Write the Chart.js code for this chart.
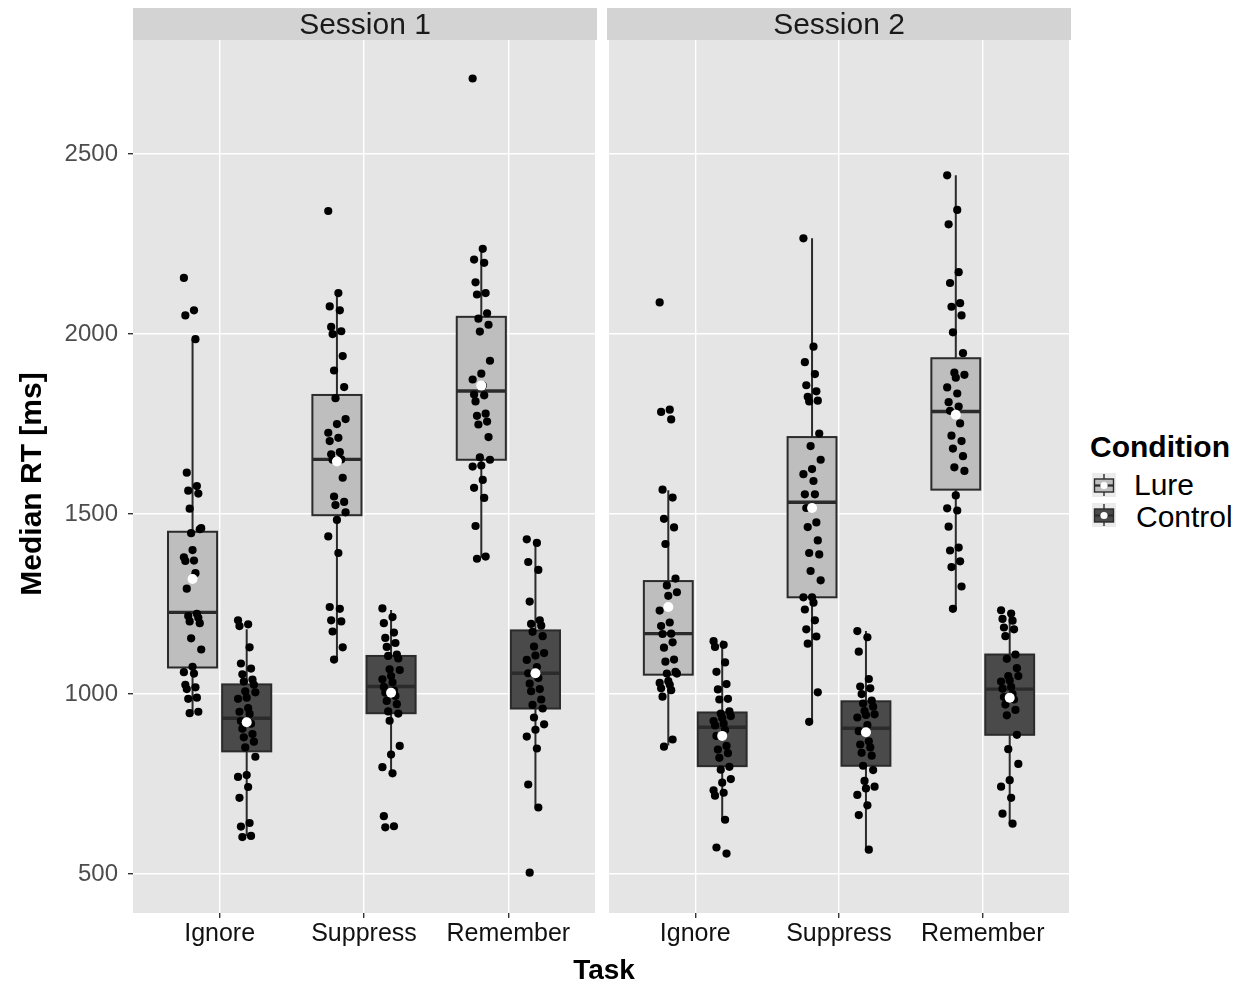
<!DOCTYPE html>
<html>
<head>
<meta charset="utf-8">
<script src="https://cdn.jsdelivr.net/npm/chart.js@4.4.1/dist/chart.umd.min.js"></script>
<style>
  body { margin: 0; background: #fff; font-family: 'Liberation Sans', Arial, sans-serif; }
  #wrap { position: relative; width: 1245px; height: 986px; overflow: hidden; }
  canvas.panel { position: absolute; top: 0; }
  .strip { position: absolute; top: 7.5px; width: 464px; height: 32px; line-height: 32px; background: #d3d3d3;
           text-align: center; font-size: 30px; color: #1a1a1a; }
  .txt { position: absolute; height: 40px; line-height: 40px; white-space: nowrap; color: #000; }
  .key { position: absolute; left: 1092px; }
</style>
</head>
<body>
<div id="wrap">
  <canvas id="panel1" class="panel" width="600" height="986" style="left:0px"></canvas>
  <canvas id="panel2" class="panel" width="470" height="986" style="left:604px"></canvas>
  <div class="strip" id="strip1" style="left:133px"></div>
  <div class="strip" id="strip2" style="left:607px"></div>
  <div class="txt" style="left:-169px;top:464px;width:400px;text-align:center;font-weight:bold;font-size:30px;transform:rotate(-90deg)">Median RT [ms]</div>
  <div class="txt" style="left:504px;top:950px;width:200px;text-align:center;font-weight:bold;font-size:28px">Task</div>
  <div class="txt" style="left:1090px;top:427px;font-weight:bold;font-size:30px">Condition</div>
  <canvas class="key" id="keyLure" width="24" height="24" style="top:473px"></canvas>
  <canvas class="key" id="keyControl" width="24" height="24" style="top:503px"></canvas>
  <div class="txt" id="lblLure" style="left:1134px;top:465px;font-size:30px"></div>
  <div class="txt" id="lblControl" style="left:1136px;top:497px;font-size:30px"></div>
</div>
<script>
const tasks = ['Ignore', 'Suppress', 'Remember'];
const sessions = ['Session 1', 'Session 2'];
const conditions = ['Lure', 'Control'];
const yTickValues = [500, 1000, 1500, 2000, 2500];

// per task: [lower whisker, Q1, median, Q3, upper whisker]
const s1LureStats    = [[951, 1074, 1227, 1451, 1986], [1091, 1497, 1652, 1831, 2116], [1379, 1651, 1842, 2048, 2237]];
const s1ControlStats = [[606, 841, 933, 1027, 1180], [779, 947, 1021, 1106, 1234], [688, 960, 1058, 1177, 1430]];
const s2LureStats    = [[857, 1054, 1168, 1314, 1566], [922, 1269, 1533, 1714, 2266], [1237, 1568, 1785, 1933, 2441]];
const s2ControlStats = [[651, 800, 908, 949, 1149], [568, 801, 905, 980, 1175], [640, 887, 1014, 1110, 1231]];

const s1LureMeans    = [1320, 1646, 1857];
const s1ControlMeans = [922, 1004, 1058];
const s2LureMeans    = [1242, 1517, 1776];
const s2ControlMeans = [884, 894, 990];

// individual participants' median RTs, per task
const s1LurePoints = [
  [2156, 2066, 2052, 1986, 1615, 1578, 1565, 1557, 1515, 1458, 1447, 1461, 1400, 1380, 1371, 1370, 1336, 1293, 1223, 1217, 1212, 1202, 1197, 1155, 1124, 1076, 1061, 1057, 1026, 1019, 1014, 990, 987, 951, 947],
  [2342, 2114, 2077, 2066, 2020, 2008, 2000, 1939, 1899, 1853, 1822, 1764, 1750, 1726, 1712, 1703, 1672, 1666, 1652, 1651, 1601, 1549, 1534, 1525, 1505, 1484, 1438, 1392, 1242, 1237, 1205, 1202, 1174, 1130, 1096],
  [2710, 2237, 2207, 2198, 2144, 2114, 2110, 2058, 2043, 2026, 2007, 1926, 1890, 1874, 1857, 1832, 1830, 1813, 1779, 1773, 1757, 1749, 1714, 1658, 1651, 1635, 1632, 1595, 1573, 1545, 1467, 1382, 1376]
];
const s1ControlPoints = [
  [1205, 1194, 1189, 1130, 1085, 1071, 1055, 1040, 1035, 1026, 1008, 1005, 990, 987, 961, 951, 945, 925, 918, 904, 889, 880, 868, 852, 826, 775, 770, 742, 712, 642, 632, 606, 603],
  [1238, 1214, 1197, 1171, 1156, 1142, 1131, 1110, 1106, 1099, 1069, 1067, 1050, 1041, 1033, 1020, 1010, 1004, 995, 981, 972, 952, 946, 926, 856, 832, 797, 780, 661, 633, 630],
  [1430, 1420, 1367, 1345, 1257, 1205, 1195, 1190, 1173, 1161, 1132, 1114, 1107, 1095, 1075, 1058, 1045, 1029, 1014, 1008, 985, 970, 960, 935, 916, 901, 882, 849, 749, 685, 504]
];
const s2LurePoints = [
  [2088, 1790, 1784, 1763, 1568, 1546, 1487, 1463, 1417, 1321, 1302, 1283, 1273, 1232, 1199, 1189, 1168, 1167, 1144, 1129, 1096, 1090, 1062, 1057, 1057, 1036, 1031, 1026, 1016, 1011, 993, 874, 854],
  [2266, 1965, 1922, 1889, 1858, 1841, 1826, 1815, 1813, 1724, 1689, 1651, 1625, 1611, 1592, 1555, 1555, 1517, 1477, 1464, 1427, 1392, 1388, 1342, 1316, 1269, 1269, 1254, 1235, 1205, 1180, 1160, 1140, 1005, 923],
  [2441, 2345, 2305, 2172, 2142, 2086, 2076, 2052, 2005, 1947, 1893, 1887, 1879, 1852, 1835, 1811, 1799, 1787, 1752, 1718, 1703, 1682, 1661, 1630, 1620, 1552, 1516, 1510, 1465, 1407, 1399, 1369, 1353, 1299, 1237]
];
const s2ControlPoints = [
  [1147, 1137, 1131, 1088, 1062, 1028, 1013, 987, 985, 952, 946, 939, 934, 925, 918, 913, 900, 884, 856, 846, 836, 823, 798, 790, 764, 754, 733, 726, 718, 651, 574, 557],
  [1175, 1158, 1118, 1042, 1021, 1016, 1000, 982, 974, 965, 953, 944, 942, 935, 914, 897, 869, 860, 852, 837, 829, 801, 789, 759, 743, 738, 720, 691, 664, 568],
  [1233, 1224, 1209, 1204, 1185, 1180, 1161, 1110, 1098, 1072, 1050, 1050, 1038, 1035, 1020, 1015, 1000, 992, 985, 971, 956, 941, 887, 847, 806, 761, 743, 712, 668, 640]
];

const FILL = { Lure: '#bebebe', Control: '#4a4a4a' };
const LINE = '#2b2b2b';
const DODGE = 0.1875;
const BOX_HALF = 0.17;
// fixed, repeatable horizontal spread for the dots (like geom_jitter)
const jitter = i => (((i * 7) % 13) / 12 - 0.5) * 0.12;

Chart.defaults.font.family = "'Liberation Sans', Arial, sans-serif";

function toXY(byTask, side) {
  const out = [];
  byTask.forEach((vals, t) => vals.forEach((v, i) => out.push({ x: t + 1 + side * DODGE + jitter(i), y: v })));
  return out;
}
const meanXY = (means, side) => means.map((m, t) => ({ x: t + 1 + side * DODGE, y: m }));

function boxPlugin(lureStats, controlStats) {
  return {
    id: 'boxes',
    beforeDraw(chart) {
      const { ctx, chartArea: a } = chart;
      ctx.save();
      ctx.fillStyle = '#e5e5e5';
      ctx.fillRect(a.left, a.top, a.right - a.left, a.bottom - a.top);
      ctx.restore();
    },
    beforeDatasetsDraw(chart) {
      const { ctx } = chart;
      const xs = chart.scales.x, ys = chart.scales.y;
      ctx.save();
      [[lureStats, -1, FILL.Lure], [controlStats, 1, FILL.Control]].forEach(([stats, side, fill]) => {
        stats.forEach(([lo, q1, med, q3, hi], t) => {
          const c = t + 1 + side * DODGE;
          const xc = xs.getPixelForValue(c);
          const xl = xs.getPixelForValue(c - BOX_HALF);
          const xr = xs.getPixelForValue(c + BOX_HALF);
          const yLo = ys.getPixelForValue(lo), yQ1 = ys.getPixelForValue(q1);
          const yMed = ys.getPixelForValue(med), yQ3 = ys.getPixelForValue(q3), yHi = ys.getPixelForValue(hi);
          ctx.strokeStyle = LINE;
          ctx.lineWidth = 2;
          ctx.beginPath();
          ctx.moveTo(xc, yHi); ctx.lineTo(xc, yQ3);
          ctx.moveTo(xc, yQ1); ctx.lineTo(xc, yLo);
          ctx.stroke();
          ctx.fillStyle = fill;
          ctx.fillRect(xl, yQ3, xr - xl, yQ1 - yQ3);
          ctx.strokeRect(xl, yQ3, xr - xl, yQ1 - yQ3);
          ctx.lineWidth = 3.4;
          ctx.beginPath();
          ctx.moveTo(xl, yMed); ctx.lineTo(xr, yMed);
          ctx.stroke();
        });
      });
      ctx.restore();
    }
  };
}

function makePanel(id, showY, lureStats, controlStats, lurePts, controlPts, lureMeans, controlMeans) {
  const dots = { pointRadius: 4.1, pointHoverRadius: 4.1, backgroundColor: '#000', borderWidth: 0, order: 1 };
  const means = { pointRadius: 5, pointHoverRadius: 5, backgroundColor: '#fff', borderWidth: 0, order: 0 };
  return new Chart(document.getElementById(id), {
    type: 'scatter',
    data: {
      datasets: [
        { label: conditions[0] + ' mean', data: meanXY(lureMeans, -1), ...means },
        { label: conditions[1] + ' mean', data: meanXY(controlMeans, 1), ...means },
        { label: conditions[0], data: toXY(lurePts, -1), ...dots },
        { label: conditions[1], data: toXY(controlPts, 1), ...dots }
      ]
    },
    options: {
      responsive: false,
      animation: false,
      devicePixelRatio: 1,
      layout: { padding: { top: 40, bottom: 28, left: showY ? 0 : 3, right: 3 } },
      plugins: { legend: { display: false }, tooltip: { enabled: false } },
      scales: {
        x: {
          type: 'linear', min: 0.4, max: 3.6,
          afterBuildTicks: s => { s.ticks = tasks.map((_, i) => ({ value: i + 1 })); },
          afterFit: s => { s.height = 45; },
          ticks: { callback: v => tasks[v - 1] ?? '', color: '#111', font: { size: 25 }, padding: 1, maxRotation: 0, autoSkip: false },
          grid: { color: '#ffffff', lineWidth: 1.4, tickColor: '#333', tickLength: 5 },
          border: { display: false }
        },
        y: {
          min: 392, max: 2817,
          afterBuildTicks: s => { s.ticks = yTickValues.map(v => ({ value: v })); },
          afterFit: s => { s.width = showY ? 133 : 0; },
          ticks: { display: showY, callback: v => String(v), color: '#4d4d4d', font: { size: 24 }, padding: 10 },
          grid: { color: '#ffffff', lineWidth: 1.4, tickColor: '#333', tickLength: 5, drawTicks: showY },
          border: { display: false }
        }
      }
    },
    plugins: [boxPlugin(lureStats, controlStats)]
  });
}

makePanel('panel1', true, s1LureStats, s1ControlStats, s1LurePoints, s1ControlPoints, s1LureMeans, s1ControlMeans);
makePanel('panel2', false, s2LureStats, s2ControlStats, s2LurePoints, s2ControlPoints, s2LureMeans, s2ControlMeans);

document.getElementById('strip1').textContent = sessions[0];
document.getElementById('strip2').textContent = sessions[1];
document.getElementById('lblLure').textContent = conditions[0];
document.getElementById('lblControl').textContent = conditions[1];

function drawKey(id, fill) {
  const ctx = document.getElementById(id).getContext('2d');
  ctx.fillStyle = '#ebebeb';
  ctx.fillRect(0, 0, 24, 24);
  ctx.strokeStyle = LINE;
  ctx.lineWidth = 1.4;
  ctx.beginPath();
  ctx.moveTo(12, 1); ctx.lineTo(12, 23);
  ctx.stroke();
  ctx.fillStyle = fill;
  ctx.fillRect(2.5, 6, 19, 13);
  ctx.strokeRect(2.5, 6, 19, 13);
  ctx.lineWidth = 2.2;
  ctx.beginPath();
  ctx.moveTo(2.5, 12.5); ctx.lineTo(21.5, 12.5);
  ctx.stroke();
  ctx.fillStyle = '#fff';
  ctx.beginPath();
  ctx.arc(12, 12.5, 3.6, 0, Math.PI * 2);
  ctx.fill();
}
drawKey('keyLure', FILL.Lure);
drawKey('keyControl', FILL.Control);
</script>
</body>
</html>
